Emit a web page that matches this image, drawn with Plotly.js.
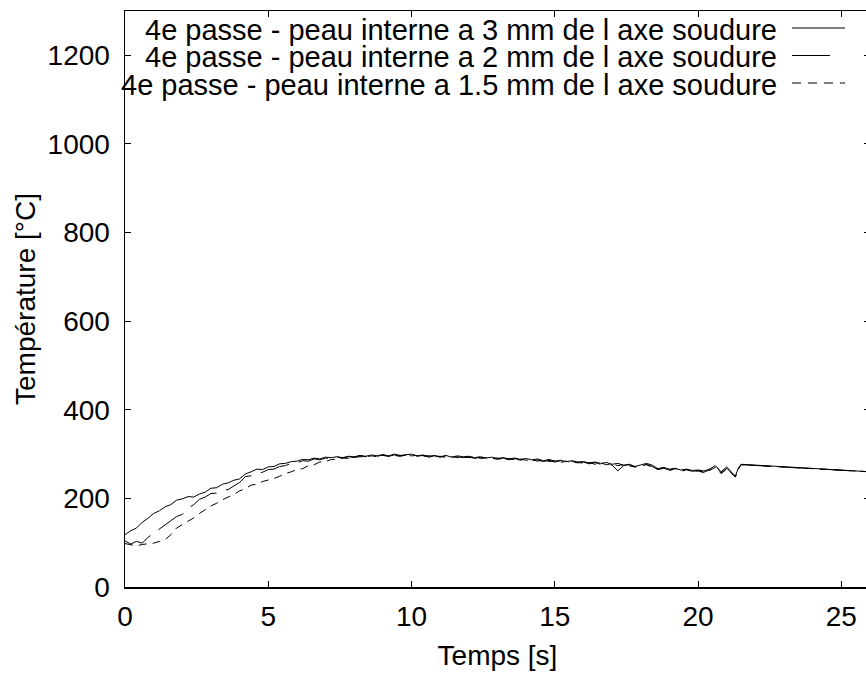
<!DOCTYPE html>
<html>
<head>
<meta charset="utf-8">
<script src="https://cdn.plot.ly/plotly-3.0.1.min.js"></script>
<style>
html, body { margin: 0; padding: 0; overflow: hidden; background: #fff; }
#chart { width: 870px; height: 674px; }
</style>
</head>
<body>
<div id="chart"></div>
<script>
// Time [s]
const time = [
  0, 0.2, 0.4, 0.6, 0.8, 1.0, 1.2, 1.4, 1.6, 1.8,
  2.0, 2.2, 2.4, 2.6, 2.8, 3.0, 3.2, 3.4, 3.6, 3.8,
  4.0, 4.2, 4.4, 4.6, 4.8, 5.0, 5.2, 5.4, 5.6, 5.8,
  6.0, 6.2, 6.4, 6.6, 6.8, 7.0, 7.2, 7.4, 7.6, 7.8,
  8.0, 8.2, 8.4, 8.6, 8.8, 9.0, 9.2, 9.4, 9.6, 9.8,
  10.0, 10.2, 10.4, 10.6, 10.8, 11.0, 11.2, 11.4, 11.6, 11.8,
  12.0, 12.2, 12.4, 12.6, 12.8, 13.0, 13.2, 13.4, 13.6, 13.8,
  14.0, 14.2, 14.4, 14.6, 14.8, 15.0, 15.2, 15.4, 15.6, 15.8,
  16.0, 16.2, 16.4, 16.6, 16.8, 17.0, 17.2, 17.4, 17.6, 17.8,
  18.0, 18.2, 18.4, 18.6, 18.8, 19.0, 19.2, 19.4, 19.6, 19.8,
  20.0, 20.2, 20.4, 20.6, 20.8, 21.0, 21.2,
  21.3, 21.4, 21.5, 26.0
];

// 4e passe - peau interne a 3 mm
const temp3mm = [
  118, 127, 133, 146, 155, 166, 172, 181, 186, 196,
  199, 204, 203, 210, 214, 223, 224, 232, 235, 241,
  244, 255, 260, 266, 265, 271, 272, 278, 279, 283,
  284, 288, 287, 291, 289, 293, 292, 294, 292, 295,
  294, 297, 295, 298, 296, 299, 296, 300, 297, 298,
  300, 296, 298, 295, 297, 294, 297, 293, 296, 294,
  295, 292, 294, 291, 293, 290, 292, 289, 291, 288,
  290, 287, 289, 285, 288, 284, 286, 283, 285, 282,
  283, 280, 282, 279, 281, 277, 279, 275, 277, 272,
  276, 279, 275, 267, 270, 266, 268, 264, 266, 263,
  264, 262, 266, 274, 260, 271, 257,
  250, 268, 277, 260
];

// 4e passe - peau interne a 2 mm
const temp2mm = [
  104, 97, 103, 99, 112, 121, 130, 141, 148, 159,
  164, 178, 186, 198, 203, 211, 212, 218, 220, 229,
  236, 249, 251, 257, 259, 265, 266, 272, 274, 279,
  280, 285, 284, 289, 287, 291, 289, 293, 291, 294,
  292, 296, 294, 297, 295, 298, 295, 298, 296, 297,
  298, 295, 297, 293, 296, 293, 295, 292, 294, 292,
  294, 290, 293, 289, 291, 288, 291, 287, 290, 286,
  289, 285, 287, 283, 286, 282, 285, 281, 284, 280,
  282, 278, 281, 277, 279, 275, 262, 274, 276, 270,
  274, 277, 272, 265, 268, 264, 266, 262, 265, 261,
  263, 259, 264, 277, 257, 268, 255,
  248, 266, 276, 260
];

// 4e passe - peau interne a 1.5 mm
const temp15mm = [
  98, 95, 93, 96, 97, 99, 103, 107, 118, 133,
  141, 148, 156, 166, 174, 183, 189, 197, 203, 209,
  217, 222, 230, 232, 238, 241, 245, 250, 256, 260,
  265, 267, 274, 276, 282, 283, 288, 288, 291, 290,
  293, 294, 293, 296, 294, 297, 295, 297, 295, 298,
  296, 297, 295, 296, 294, 295, 293, 294, 292, 293,
  292, 293, 290, 292, 289, 291, 288, 290, 287, 289,
  286, 288, 284, 287, 283, 285, 281, 284, 280, 282,
  279, 281, 277, 280, 276, 278, 274, 276, 273, 271,
  273, 276, 270, 266, 269, 263, 267, 261, 265, 260,
  262, 258, 263, 270, 256, 266, 254,
  249, 265, 276, 260
];

const seriesNames = [
  '4e passe - peau interne a 3 mm de l axe soudure',
  '4e passe - peau interne a 2 mm de l axe soudure',
  '4e passe - peau interne a 1.5 mm de l axe soudure'
];
const seriesValues = [temp3mm, temp2mm, temp15mm];
const seriesDash = ['solid', '30px,10px', '8px,6px'];

const xTickVals = [0, 5, 10, 15, 20, 25];
const yTickVals = [0, 200, 400, 600, 800, 1000, 1200];
const xTitle = 'Temps [s]';
const yTitle = 'Température [°C]';

const FONT = '"Liberation Sans", Arial, Helvetica, sans-serif';
const FS = 28;
const FS_LEG = 29;

const traces = seriesValues.map((vals, i) => ({
  type: 'scatter',
  mode: 'lines',
  x: time,
  y: vals,
  name: seriesNames[i],
  line: { color: '#000', width: 1, dash: seriesDash[i] },
  showlegend: false,
  hoverinfo: 'skip'
}));

// Legend drawn gnuplot-style: right-aligned text, sample to the right
const W = 870, H = 674;
const M = { l: 125, r: 0, t: 11, b: 87 };
const plotW = W - M.l - M.r, plotH = H - M.t - M.b;
const px2x = p => (p - M.l) / plotW;
const py2y = p => 1 - (p - M.t) / plotH;

const legendRowsY = [30, 57.5, 85];
const annotations = seriesNames.map((name, i) => ({
  xref: 'paper', yref: 'paper',
  x: px2x(778), y: py2y(legendRowsY[i]),
  xanchor: 'right', yanchor: 'middle',
  text: name, showarrow: false, borderpad: 0,
  font: { family: FONT, size: FS_LEG, color: '#000' }
}));
const sampleEnds = [845, 830, 845];
const shapes = seriesNames.map((name, i) => ({
  type: 'line', xref: 'paper', yref: 'paper',
  x0: px2x(792), x1: px2x(sampleEnds[i]),
  y0: py2y(legendRowsY[i] - 2), y1: py2y(legendRowsY[i] - 2),
  line: { color: '#000', width: 1, dash: i === 2 ? '9px,7px' : 'solid' }
}));

const axisCommon = {
  showline: true, mirror: 'ticks', linecolor: '#000', linewidth: 1.5,
  ticks: 'inside', ticklen: 6, tickcolor: '#000', tickwidth: 1,
  showgrid: false, zeroline: false,
  tickfont: { family: FONT, size: FS, color: '#000' }
};

const layout = {
  width: W, height: H,
  margin: M,
  paper_bgcolor: '#fff', plot_bgcolor: '#fff',
  font: { family: FONT, size: FS, color: '#000' },
  showlegend: false,
  xaxis: Object.assign({}, axisCommon, {
    range: [0, 26], tickvals: xTickVals, ticktext: xTickVals.map(String),
    ticklabelstandoff: 4,
    title: { text: xTitle, font: { family: FONT, size: FS, color: '#000' }, standoff: 14 }
  }),
  yaxis: Object.assign({}, axisCommon, {
    range: [0, 1300], tickvals: yTickVals, ticktext: yTickVals.map(String),
    ticklabelstandoff: 8,
    title: { text: yTitle, font: { family: FONT, size: FS, color: '#000' }, standoff: 4 }
  }),
  annotations: annotations,
  shapes: shapes
};

Plotly.newPlot('chart', traces, layout, { displayModeBar: false, staticPlot: true });
</script>
</body>
</html>
